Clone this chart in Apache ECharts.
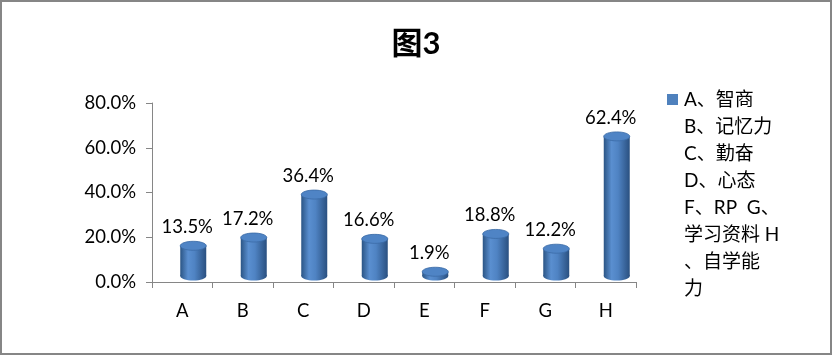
<!DOCTYPE html>
<html>
<head>
<meta charset="utf-8">
<script src="https://cdn.jsdelivr.net/npm/echarts@6/dist/echarts.min.js"></script>
<style>
html,body{margin:0;padding:0;background:#fff;}
#chart{width:832px;height:355px;}
</style>
</head>
<body>
<div id="chart"></div>
<script>
const titleText = '图3';
const categories = ['A', 'B', 'C', 'D', 'E', 'F', 'G', 'H'];
const values = [13.5, 17.2, 36.4, 16.6, 1.9, 18.8, 12.2, 62.4];
const legendLines = ['A、智商', 'B、记忆力', 'C、勤奋', 'D、心态', 'F、RP  G、', '学习资料 H', '、自学能', '力'];
const yMin = 0, yMax = 80, yStep = 20;

const FONT = 'Lato, "Noto Sans CJK SC", sans-serif';
const chart = echarts.init(document.getElementById('chart'));

function renderCylinder(params, api) {
  const idx = api.value(0), v = api.value(1);
  const top = api.coord([idx, v]);
  const base = api.coord([idx, 0]);
  const w = 26, rx = 13, ry = 4.5, dx = 11, dy = -6;
  const cx = top[0] + dx;
  const yt = top[1] + dy;
  const yb = base[1] + dy;
  const bodyFill = new echarts.graphic.LinearGradient(0, 0, 1, 0, [
    { offset: 0, color: '#2B5585' },
    { offset: 0.3, color: '#5A8FD0' },
    { offset: 0.55, color: '#4F83C3' },
    { offset: 1, color: '#2A5080' }
  ]);
  return {
    type: 'group',
    children: [
      { type: 'ellipse', shape: { cx: cx, cy: yb, rx: rx, ry: ry }, style: { fill: bodyFill } },
      { type: 'rect', shape: { x: cx - w / 2, y: yt, width: w, height: Math.max(0, yb - yt) }, style: { fill: bodyFill } },
      { type: 'ellipse', shape: { cx: cx, cy: yt, rx: rx, ry: ry }, style: { fill: '#4F84C5', stroke: '#3B6BA6', lineWidth: 0.8 } },
      { type: 'text', x: cx - 6, y: yt - ry - 14,
        style: { text: api.value(1).toFixed(1) + '%', fontSize: 18.5, fontFamily: FONT, fill: '#000', align: 'center', verticalAlign: 'middle' } }
    ]
  };
}

const legendFormatter = function () {
  return legendLines.map((l, i) => (i === 0 ? '{sq|}{g|}' : '{sp|}') + l).join('\n');
};

chart.setOption({
  backgroundColor: '#fff',
  animation: false,
  title: {
    text: titleText, left: 'center', top: 24,
    textStyle: { fontSize: 31, fontWeight: 'bold', fontFamily: FONT, color: '#000' }
  },
  grid: { left: 152, right: 196, top: 103, bottom: 73 },
  legend: {
    data: ['系列1'], left: 657, top: 81, selectedMode: false,
    itemWidth: 0, itemHeight: 0, icon: 'rect',
    formatter: legendFormatter,
    textStyle: {
      fontSize: 19, fontFamily: FONT, color: '#000', lineHeight: 27,
      rich: {
        sq: { width: 11, height: 11, backgroundColor: '#4F81BD', lineHeight: 27 },
        g: { width: 6, lineHeight: 27 },
        sp: { width: 17, lineHeight: 27 }
      }
    }
  },
  xAxis: {
    type: 'category', data: categories,
    axisLine: { lineStyle: { color: '#868686', width: 1 } },
    axisTick: { show: true, length: 6, lineStyle: { color: '#868686' } },
    axisLabel: { color: '#000', fontSize: 18.5, fontFamily: FONT, margin: 20 }
  },
  yAxis: {
    type: 'value', min: yMin, max: yMax, interval: yStep,
    axisLine: { show: true, lineStyle: { color: '#868686', width: 1 } },
    axisTick: { show: true, length: 6, lineStyle: { color: '#868686' } },
    splitLine: { show: false },
    axisLabel: { color: '#000', fontSize: 18.5, fontFamily: FONT, margin: 16,
      formatter: v => v.toFixed(1) + '%' }
  },
  graphic: [{
    type: 'rect', silent: true, z: 100,
    shape: { x: 1, y: 1, width: 830, height: 353 },
    style: { fill: null, stroke: '#868686', lineWidth: 2 }
  }],
  series: [{
    name: '系列1', type: 'custom',
    itemStyle: { color: '#4F81BD' },
    renderItem: renderCylinder,
    encode: { x: 0, y: 1 },
    data: categories.map((c, i) => [i, values[i]])
  }]
});
</script>
</body>
</html>
